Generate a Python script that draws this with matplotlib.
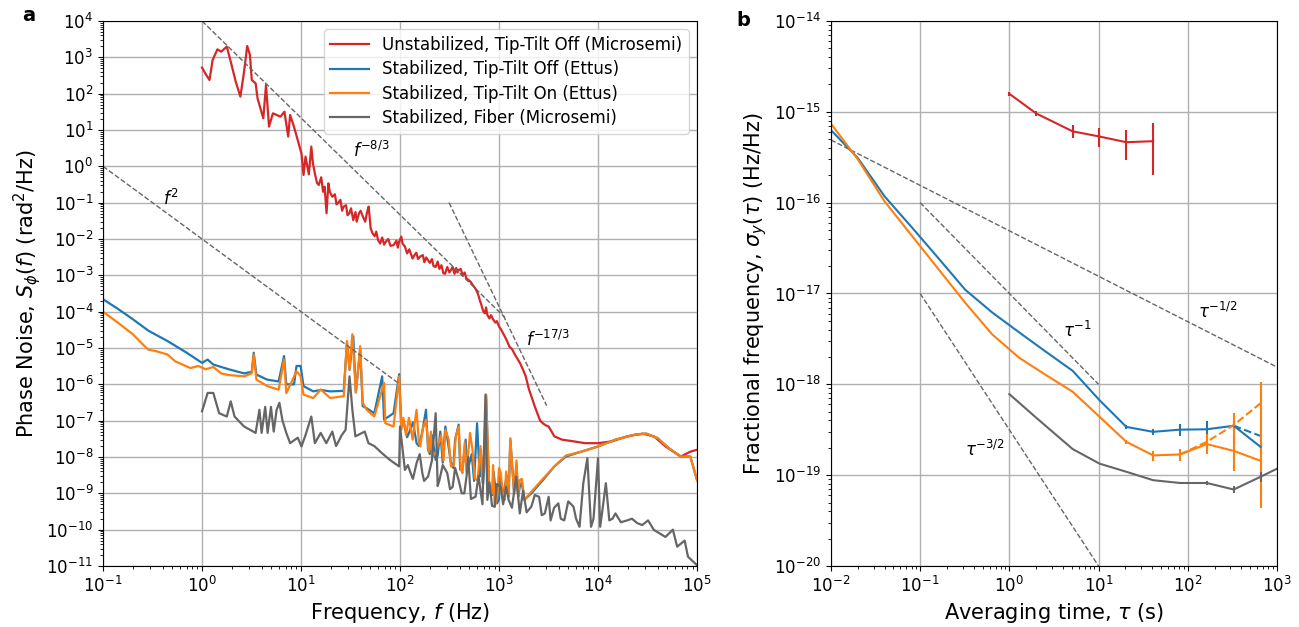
import numpy as np
import matplotlib
matplotlib.use('Agg')
import matplotlib.pyplot as plt
from matplotlib.ticker import LogLocator, NullFormatter

# ---- panel a: phase noise PSD ----
f_red = [1.0, 1.1, 1.19, 1.28, 1.43, 1.56, 1.78, 1.95, 2.19, 2.44, 2.66, 2.86, 3.05, 3.18, 3.48,
         3.64, 4.16, 4.43, 4.75, 5.2, 6.2, 6.8, 7.42, 7.76, 8.48, 9.27, 10.1, 10.6, 11.1, 12.7,
         13.8, 15.1, 17.3, 18.1, 18.9, 20.7, 23.6, 27, 30.8, 33.7, 38.5, 42.2, 48.2, 52.7, 60,
         72, 86, 103, 112, 134, 160, 192, 229, 274, 327, 391, 467, 558, 638, 697, 762, 871, 996,
         1140, 1360, 1625, 1860, 2120, 2430, 2770, 3170, 3620, 4330, 5650, 7380, 10000, 13800,
         19700, 28100, 36700, 48000, 68500, 85500, 100000]
S_red = [520, 330, 238, 845, 1660, 1430, 1970, 760, 214, 83, 404, 2050, 1160, 238, 192,
         74, 21, 173, 12.4, 28.8, 23.3, 32, 6.6, 25.9, 12.4, 5.3, 2.28, 0.577, 1.85, 3.5,
         0.64, 0.306, 0.275, 0.051, 0.34, 0.146, 0.096, 0.078, 0.051, 0.033, 0.051, 0.041, 0.078, 0.0143, 0.0094,
         0.0085, 0.0068, 0.0116, 0.0062, 0.0029, 0.0033, 0.0026, 0.0017, 0.00114, 0.0014, 0.0014, 0.00083, 0.00049, 0.00021, 1e-4, 8.1e-5, 6.1e-5, 4e-5,
         2.1e-5, 9.1e-6, 3.9e-6, 1.66e-6, 4.7e-7, 1.62e-7, 8.5e-8, 6.9e-8, 3.7e-8, 3.0e-8, 2.7e-8, 2.4e-8, 2.4e-8, 2.7e-8,
         3.7e-8, 4.4e-8, 3.7e-8, 1.95e-8, 1.03e-8, 1.4e-8, 1.58e-8]
# extra readings of the noisy red band
f_red2 = [11.5, 12.0, 13.2, 14.5, 16.0, 16.7, 19.5, 22.0, 22.8, 25.0, 26.0, 28.5, 29.5, 32.0,
          35.5, 36.5, 40.0, 44.5, 46.5, 50.5, 55.5, 57.5, 63, 66, 69, 76, 80, 92, 95, 98,
          106, 118, 124, 140, 146, 152, 170, 176, 184, 200, 210, 218, 240, 250, 262, 285,
          300, 315, 340, 355, 370, 380, 410, 430, 450, 490, 520, 540, 580, 600, 620, 660,
          680, 720, 740, 800, 830, 920, 950, 1050, 1100, 1200, 1270, 1450, 1550, 1750, 2000,
          2280, 2600, 2950]
S_red2 = [1.1, 0.6, 1.2, 0.35, 0.5, 0.2, 0.2, 0.17, 0.09, 0.12, 0.06, 0.085, 0.045, 0.07,
          0.055, 0.03, 0.06, 0.03, 0.055, 0.02, 0.012, 0.016, 0.0075, 0.011, 0.007, 0.01, 0.0065, 0.009, 0.0058, 0.0085,
          0.0075, 0.004, 0.0052, 0.0036, 0.0042, 0.0028, 0.0036, 0.0023, 0.0031, 0.0022, 0.0028, 0.0018, 0.0024, 0.0015, 0.0019, 0.0011,
          0.0017, 0.0012, 0.0017, 0.0011, 0.0016, 0.0012, 0.0015, 0.0010, 0.0012, 0.00075, 0.00065, 0.00055, 0.00042, 0.00035, 0.00028, 0.00016,
          0.00012, 9e-5, 1.3e-4, 6.5e-5, 8e-5, 5e-5, 5.5e-5, 3.2e-5, 2.5e-5, 1.6e-5, 1.1e-5, 6.5e-6, 4.8e-6, 2.5e-6, 7.5e-7,
          2.6e-7, 1.0e-7, 7.5e-8]

f_blue = [0.1, 0.141, 0.2, 0.287, 0.449, 0.7, 1.0, 1.14, 1.3, 1.86,
          2.66, 3.18, 3.33, 3.54, 4.54, 5.94, 6.74, 7.1, 8.5, 9.0,
          9.9, 10.6, 13.3, 15.8, 19.7, 27, 29.1, 30.9, 33.7, 35.8,
          39.6, 42, 46, 55, 66, 69, 86, 98, 103, 123,
          147, 183, 192, 229, 287, 327, 391, 427, 488, 600,
          638, 740, 795, 955, 1140, 1300, 1420, 1620, 1800, 2120,
          2770, 3620, 4740, 6760, 10000, 15000, 23400, 30700, 40000, 52000,
          68500, 85500, 100000]
S_blue = [2.2e-4, 1.2e-4, 6.2e-5, 3e-5, 1.55e-5, 7.4e-6, 3.9e-6, 4.8e-6, 3.5e-6, 2.6e-6,
          2.0e-6, 2.2e-6, 7.4e-6, 1.86e-6, 1.35e-6, 1.2e-6, 6e-6, 1e-6, 1e-6, 3.2e-6,
          3.2e-6, 8.9e-7, 6.4e-7, 7e-7, 6.4e-7, 6.6e-7, 1.4e-5, 2.5e-6, 2.1e-5, 6e-7,
          9.1e-6, 2.5e-7, 2.2e-7, 1.6e-7, 1.66e-6, 1.07e-7, 1.6e-7, 1.9e-6, 6.9e-8, 4.6e-8,
          2.4e-8, 2e-7, 1.6e-8, 8.3e-9, 6.9e-8, 6.8e-9, 7.8e-8, 4.4e-9, 5e-9, 8.5e-8,
          2.9e-9, 4.7e-7, 1.23e-9, 5.3e-10, 1.5e-9, 3e-8, 1e-9, 1.5e-9, 6.6e-10, 1e-9,
          2.3e-9, 5.5e-9, 1.03e-8, 1.4e-8, 1.95e-8, 3e-8, 4.1e-8, 4.4e-8, 3.3e-8, 1.74e-8,
          1.03e-8, 1.03e-8, 2.3e-9]
f_blue2 = [108, 118, 135, 155, 168, 200, 210, 240, 255, 270, 305, 345, 360, 405, 460, 475,
           530, 560, 650, 690, 710, 860, 880, 1000, 1020, 1100, 1200, 1250, 1500, 1560, 1700]
S_blue2 = [1e-7, 3.5e-8, 9e-8, 2e-8, 5e-8, 1.2e-8, 4e-8, 1.1e-8, 5e-8, 7e-9, 2.5e-8, 5e-9, 3e-8, 4.5e-9, 3e-8, 3.5e-9,
           1.2e-8, 2.2e-9, 1.6e-8, 1.8e-9, 6e-9, 9e-10, 4e-9, 7e-10, 4e-9, 7e-10, 3e-9, 8e-10, 6e-9, 8e-10, 2e-9]

f_orange = [0.1, 0.141, 0.2, 0.263, 0.287, 0.343, 0.449, 0.536, 0.765, 0.915,
            1.09, 1.3, 1.56, 1.86, 2.66, 3.18, 3.33, 3.54, 4.54, 5.94,
            6.74, 7.1, 9.0, 9.9, 10.6, 13.3, 15.8, 19.7, 27, 29.1,
            30.9, 33, 35.8, 39.6, 42, 46, 55, 69, 71, 86,
            98, 103, 123, 134, 147, 160, 183, 210, 240, 287,
            327, 391, 427, 510, 607, 740, 795, 905, 1040, 1140,
            1300, 1420, 1620, 1800, 2120, 2770, 3620, 4740, 6760, 10000,
            15000, 23400, 30700, 40000, 52000, 68500, 85500, 100000]
S_orange = [1e-4, 5e-5, 2.4e-5, 1.12e-5, 9e-6, 8.2e-6, 6.6e-6, 4.3e-6, 2.8e-6, 3.2e-6,
            2.6e-6, 3e-6, 2e-6, 1.8e-6, 1.66e-6, 2e-6, 6.6e-6, 1.35e-6, 9e-7, 7.1e-7,
            4.8e-6, 5.7e-7, 2.3e-6, 1.66e-6, 5.2e-7, 4.2e-7, 7.2e-7, 4.2e-7, 4.7e-7, 1.55e-5,
            2.6e-6, 2.4e-5, 6e-7, 1.12e-5, 3.1e-7, 2e-7, 1.3e-7, 1.1e-6, 8.5e-8, 6.9e-8,
            1.66e-6, 5.6e-8, 1.2e-7, 3e-8, 2e-7, 1.95e-8, 1.07e-7, 1e-8, 2e-8, 5.6e-8,
            5.5e-9, 6.9e-8, 3.6e-9, 4.6e-8, 2.3e-9, 5.2e-7, 1.5e-9, 4.3e-10, 3.6e-9, 6.6e-10,
            3.3e-8, 1e-9, 2.3e-9, 6.6e-10, 1.1e-9, 2.5e-9, 5.5e-9, 1.1e-8, 1.4e-8, 1.95e-8,
            3e-8, 4.1e-8, 4.4e-8, 3.3e-8, 1.74e-8, 1.03e-8, 1.03e-8, 2.3e-9]
f_orange2 = [108, 115, 140, 155, 170, 195, 205, 225, 260, 275, 310, 350, 365, 410, 450, 470,
             540, 570, 650, 680, 700, 850, 870, 960, 1000, 1100, 1180, 1250, 1500, 1560, 1700]
S_orange2 = [1.2e-7, 4e-8, 8e-8, 2.5e-8, 6e-8, 1.4e-8, 5e-8, 1.2e-8, 4e-8, 8e-9, 3e-8, 6e-9, 3.5e-8, 5e-9, 2.5e-8, 4e-9,
             1.5e-8, 2.5e-9, 2e-8, 2e-9, 8e-9, 1e-9, 6e-9, 8e-10, 5e-9, 8e-10, 4e-9, 9e-10, 8e-9, 9e-10, 2.5e-9]

f_gray = [1.0, 1.14, 1.3, 1.49, 1.78, 1.95, 2.13, 2.66, 3.48, 3.8,
          4.0, 4.35, 4.6, 4.97, 5.3, 5.67, 6.05, 6.5, 7.1, 7.76,
          9.27, 10.1, 11.1, 12.7, 13.8, 15.8, 18, 20.7, 22.6, 25.8,
          28.2, 30.9, 33, 35.4, 44, 48, 55, 66, 79, 98,
          100, 112, 128, 147, 168, 192, 229, 250, 300, 340,
          391, 446, 488, 580, 730, 762, 905, 1040, 1250, 1490,
          1620, 2120, 2540, 2900, 3170, 3320, 3970, 4560, 5650, 6500,
          7100, 7800, 8500, 10000, 10500, 12000, 13000, 15000, 19700, 28000,
          32000, 36700, 48000, 57000, 63000, 75000, 81000, 100000]
S_gray = [1.8e-7, 5.8e-7, 5.8e-7, 1.6e-7, 1.3e-7, 3.4e-7, 1.3e-7, 6.9e-8, 4.6e-8, 2e-7,
          4.6e-8, 2.4e-7, 4.6e-8, 2.4e-7, 5e-8, 2e-7, 3.1e-7, 1e-7, 4.6e-8, 2.4e-8,
          3.4e-8, 1.95e-8, 4e-8, 1.3e-7, 2.4e-8, 4.6e-8, 2.4e-8, 5e-8, 2e-8, 4e-8,
          5.6e-8, 1.66e-6, 2e-7, 3.7e-8, 5e-8, 2.4e-8, 2e-8, 1.26e-8, 8.3e-9, 5.5e-9,
          6.9e-8, 4.4e-9, 3.6e-9, 6.8e-9, 3.6e-9, 2.9e-9, 1.6e-7, 2.3e-9, 3.6e-9, 1.5e-9,
          2.3e-9, 1e-9, 1e-8, 8.1e-10, 5.2e-7, 6.6e-10, 4.3e-10, 1.5e-9, 6.6e-10, 2.9e-9,
          2.8e-10, 4.3e-10, 8e-10, 2.8e-10, 8e-10, 1.8e-10, 5.3e-10, 1.8e-10, 4.3e-10, 1.2e-10,
          1.9e-9, 9.3e-9, 1.2e-10, 9.3e-9, 1.2e-10, 1.9e-9, 1.8e-10, 2.8e-10, 1.8e-10, 1.34e-10,
          1.8e-10, 9.8e-11, 6.3e-11, 1e-10, 3.4e-11, 5e-11, 1.8e-11, 1.05e-11]
# extra readings of the noisy fiber band
f_gray2 = [120, 135, 158, 175, 210, 240, 270, 320, 360, 420, 470, 520, 620, 680, 800, 850,
           950, 1100, 1180, 1350, 1750, 1900, 2300, 2700, 3600, 4200, 5000, 6000, 9000, 11000,
           14000, 17000, 22000, 25000]
S_gray2 = [6e-9, 2.5e-9, 1.2e-8, 2.2e-9, 8e-9, 1.6e-9, 6e-9, 1.3e-9, 5e-9, 1e-9, 3e-9, 7e-10, 3e-9, 5e-10, 2e-9, 4.5e-10,
           1.8e-9, 5e-10, 1.5e-9, 4e-10, 1.2e-9, 3e-10, 9e-10, 2.5e-10, 4e-10, 2e-10, 6e-10, 2e-10, 2e-10, 3e-10,
           2e-10, 1.6e-10, 2e-10, 1.5e-10]

# power-law guide lines (end points)
f_sq = [0.1, 94]
f_83 = [1.0, 1150]
f_173 = [313, 3030]

# ---- panel b: Allan deviation ----
tau_red = [1.0, 2.0, 5.12, 10.24, 20.48, 40.96]
adev_red = [1.58e-15, 9.6e-16, 6.1e-16, 5.35e-16, 4.63e-16, 4.75e-16]
err_red = [0.9e-16, 0.7e-16, 1.0e-16, 1.3e-16, 1.7e-16, 2.75e-16]

tau_ab = [0.01, 0.02, 0.04, 0.08, 0.16, 0.32, 0.64, 1.28, 2.56, 5.12, 10.24, 20.48,
          40.96, 81.92, 163.84, 327.68, 655.36]
adev_blue = [6.3e-16, 3.1e-16, 1.17e-16, 5.4e-17, 2.45e-17, 1.1e-17, 6.2e-18, 3.75e-18,
             2.29e-18, 1.41e-18, 6.7e-19, 3.4e-19, 3.0e-19, 3.17e-19, 3.2e-19, 3.5e-19, 2.05e-19]
err_blue = [0, 0, 0, 0, 0, 0, 0, 0, 0, 0, 0, 0.2e-19, 0.25e-19, 0.5e-19, 0.7e-19, 0.4e-19, 0.3e-19]
adev_orange = [7.4e-16, 3.0e-16, 1.03e-16, 4.37e-17, 1.86e-17, 7.9e-18, 3.56e-18, 1.97e-18,
               1.27e-18, 8.3e-19, 4.4e-19, 2.33e-19, 1.65e-19, 1.69e-19, 2.2e-19, 1.85e-19, 1.44e-19]
err_orange = [0, 0, 0, 0, 0, 0, 0, 0, 0, 0, 0, 0.12e-19, 0.2e-19, 0.25e-19, 0.5e-19, 0.75e-19, 1.0e-19]

tau_blue_d = [327.68, 655.36]
adev_blue_d = [3.5e-19, 2.7e-19]
tau_orange_d = [81.92, 163.84, 327.68, 655.36]
adev_orange_d = [1.69e-19, 2.33e-19, 3.56e-19, 6.2e-19]
err_orange_d = [0, 0.5e-19, 1.3e-19, 4.5e-19]

tau_gray = [1.0, 2.05, 5.12, 10.24, 20.48, 40.96, 81.92, 163.84, 327.68, 655.36, 1310.72]
adev_gray = [7.8e-19, 4.2e-19, 1.94e-19, 1.34e-19, 1.09e-19, 8.8e-20, 8.2e-20, 8.2e-20,
             6.95e-20, 9.6e-20, 1.34e-19]
err_gray = [0, 0, 0, 0, 0, 0, 0.03e-19, 0.04e-19, 0.06e-19, 0.12e-19, 0]

tau_h = [0.01, 1000]
tau_1 = [0.1, 10]
tau_32 = [0.1, 10]

labels = ['Unstabilized, Tip-Tilt Off (Microsemi)', 'Stabilized, Tip-Tilt Off (Ettus)',
          'Stabilized, Tip-Tilt On (Ettus)', 'Stabilized, Fiber (Microsemi)']
c_red, c_blue, c_orange, c_gray = '#d62728', '#1f77b4', '#ff7f0e', '#666666'


def merged(fa, sa, fb, sb):
    f = np.concatenate([fa, fb])
    s = np.concatenate([sa, sb])
    o = np.argsort(f, kind='stable')
    return f[o], s[o]


plt.rcParams['font.size'] = 12

fig = plt.figure(figsize=(12.99, 6.27), dpi=100)
ax1 = fig.add_axes([0.0793, 0.0973, 0.4573, 0.8692])
ax2 = fig.add_axes([0.6397, 0.0973, 0.3433, 0.8692])

lw = 1.6
ax1.loglog(*merged(f_red, S_red, f_red2, S_red2), color=c_red, lw=lw, label=labels[0])
ax1.loglog(*merged(f_blue, S_blue, f_blue2, S_blue2), color=c_blue, lw=lw, label=labels[1])
ax1.loglog(*merged(f_orange, S_orange, f_orange2, S_orange2), color=c_orange, lw=lw, label=labels[2])
ax1.loglog(*merged(f_gray, S_gray, f_gray2, S_gray2), color=c_gray, lw=lw, label=labels[3])

fs = np.array(f_sq)
ax1.loglog(fs, 1e-2 * fs**-2.0, '--', color='0.4', lw=1)
f8 = np.array(f_83)
ax1.loglog(f8, 1e4 * f8**(-8/3), '--', color='0.4', lw=1)
f17 = np.array(f_173)
ax1.loglog(f17, 0.1 * (f17 / 313)**(-17/3), '--', color='0.4', lw=1)
ax1.text(0.4, 0.123, '$f^2$', va='center', ha='left', fontsize=12)
ax1.text(33.7, 2.7, '$f^{-8/3}$', va='center', ha='left', fontsize=12)
ax1.text(1858, 1.7e-5, '$f^{-17/3}$', va='center', ha='left', fontsize=12)

ax1.set_xlim(0.1, 1e5)
ax1.set_ylim(1e-11, 1e4)
ax1.set_xticks(10.0 ** np.arange(-1, 6))
ax1.set_yticks(10.0 ** np.arange(-11, 5))
ax1.set_xlabel('Frequency, $f$ (Hz)', fontsize=15)
ax1.set_ylabel('Phase Noise, $S_\\phi(f)$ (rad$^2$/Hz)', fontsize=15, labelpad=2)
ax1.legend(loc='upper right', fontsize=12, labelspacing=0.38, handlelength=2.3)

ax2.errorbar(tau_red, adev_red, yerr=err_red, color=c_red, lw=1.5, elinewidth=1.5)
ax2.errorbar(tau_ab, adev_blue, yerr=err_blue, color=c_blue, lw=1.5, elinewidth=1.5)
ax2.errorbar(tau_ab, adev_orange, yerr=err_orange, color=c_orange, lw=1.5, elinewidth=1.5)
ax2.plot(tau_blue_d, adev_blue_d, '--', color=c_blue, lw=1.5)
ax2.errorbar(tau_orange_d, adev_orange_d, yerr=err_orange_d, color=c_orange, ls='--', lw=1.5, elinewidth=1.5)
ax2.errorbar(tau_gray, adev_gray, yerr=err_gray, color=c_gray, lw=1.5, elinewidth=1.5)

th = np.array(tau_h)
ax2.loglog(th, 4.9e-17 * th**-0.5, '--', color='0.4', lw=1)
t1 = np.array(tau_1)
ax2.loglog(t1, 1e-17 / t1, '--', color='0.4', lw=1)
t3 = np.array(tau_32)
ax2.loglog(t3, 3.16e-19 * t3**-1.5, '--', color='0.4', lw=1)
ax2.text(130, 6.3e-18, '$\\tau^{-1/2}$', va='center', ha='left', fontsize=12)
ax2.text(4.0, 3.9e-18, '$\\tau^{-1}$', va='center', ha='left', fontsize=12)
ax2.text(0.32, 1.9e-19, '$\\tau^{-3/2}$', va='center', ha='left', fontsize=12)

ax2.set_xscale('log')
ax2.set_yscale('log')
ax2.set_xlim(1e-2, 1e3)
ax2.set_ylim(1e-20, 1e-14)
ax2.set_xticks(10.0 ** np.arange(-2, 4))
ax2.set_yticks(10.0 ** np.arange(-20, -13))
ax2.set_xlabel('Averaging time, $\\tau$ (s)', fontsize=15)
ax2.set_ylabel('Fractional frequency, $\\sigma_y(\\tau)$ (Hz/Hz)', fontsize=15)

for ax in (ax1, ax2):
    for axis in (ax.xaxis, ax.yaxis):
        axis.set_minor_locator(LogLocator(base=10, subs=np.arange(2, 10), numticks=300))
        axis.set_minor_formatter(NullFormatter())
    ax.grid(True, which='major', color='#b0b0b0', lw=1)

fig.text(0.017, 0.975, 'a', fontsize=14, fontweight='bold', va='center')
fig.text(0.567, 0.968, 'b', fontsize=14, fontweight='bold', va='center')

fig.savefig('out.png', dpi=100)
